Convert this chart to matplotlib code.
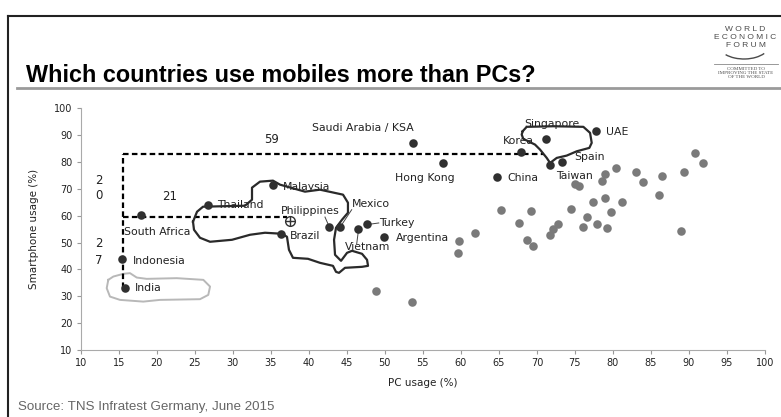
import matplotlib
matplotlib.use("Agg")
import matplotlib.pyplot as plt
import numpy as np
from matplotlib.patches import Arc

# highlighted countries: PC usage vs smartphone usage (%)
countries = ["India", "Indonesia", "South Africa", "Thailand", "Malaysia", "Brazil",
             "Philippines", "Mexico", "Vietnam", "Turkey", "Argentina",
             "Saudi Arabia / KSA", "Hong Kong", "China", "Korea", "Singapore",
             "Taiwan", "Spain", "UAE"]
pc_usage = [15.8, 15.4, 17.9, 26.7, 35.3, 36.4, 42.7, 44.1, 46.5, 47.6, 49.9,
            53.7, 57.6, 64.7, 67.9, 71.2, 71.7, 73.3, 77.8]
phone_usage = [33.2, 43.8, 60.4, 64.1, 71.3, 53.3, 55.8, 55.8, 55.0, 56.9, 51.9,
               86.9, 79.7, 74.4, 83.8, 88.4, 78.8, 80.0, 91.5]

# remaining (unlabelled) countries
other_pc = [48.9, 53.6, 59.7, 59.6, 61.8, 65.3, 67.6, 69.2, 68.7, 69.5, 71.7, 72.1,
            72.8, 74.5, 75.0, 75.6, 76.1, 76.6, 77.4, 77.9, 78.6, 78.9, 79.0, 79.2,
            79.7, 80.4, 81.2, 83.0, 83.9, 86.1, 86.4, 89.0, 89.3, 90.8, 91.8]
other_phone = [32.0, 28.0, 50.6, 46.1, 53.4, 62.2, 57.3, 61.8, 51.0, 48.8, 52.9, 55.0,
               56.8, 62.5, 71.7, 71.2, 55.8, 59.5, 65.1, 57.0, 72.8, 75.7, 66.5, 55.4,
               61.4, 77.6, 65.1, 76.2, 72.4, 67.6, 74.7, 54.4, 76.2, 83.4, 79.5]

x_ticks = list(range(10, 101, 5))
y_ticks = list(range(10, 101, 10))

# gap guides drawn from India
guide_x = 15.5
guide_top = 82.8
guide_mid = 59.5
guide_top_end = 70.9
guide_mid_end = 37.1
gap_labels = [("59", 35.1, 88.4), ("21", 21.7, 67.2), ("2", 12.4, 73.1), ("0", 12.4, 67.5),
              ("2", 12.4, 49.6), ("7", 12.4, 43.2)]

# where each country name sits (data coords, left edge)
label_pos = {
    "India": (17.1, 33.2), "Indonesia": (16.9, 43.2), "South Africa": (15.7, 53.8),
    "Thailand": (28.0, 64.0), "Malaysia": (36.6, 70.7), "Brazil": (37.5, 52.3),
    "Philippines": (36.3, 61.9), "Mexico": (45.7, 64.4), "Vietnam": (44.8, 48.2),
    "Turkey": (49.3, 57.3), "Argentina": (51.4, 51.7), "Saudi Arabia / KSA": (40.4, 92.8),
    "Hong Kong": (51.3, 74.1), "China": (66.1, 74.1), "Korea": (65.5, 87.7),
    "Singapore": (68.4, 94.2), "Taiwan": (72.5, 74.9), "Spain": (74.9, 81.9),
    "UAE": (79.1, 91.2),
}

# freehand outlines around groups of countries
blob_x = [24.77, 25.30, 26.09, 31.61, 32.53, 32.53, 33.58, 35.29, 36.21, 39.50, 41.47,
          44.50, 45.15, 45.15, 44.37, 43.58, 43.32, 43.45, 44.24, 45.03, 45.69, 47.00,
          47.66, 47.79, 47.00, 44.76, 43.97, 43.58, 43.18, 41.47, 39.89, 37.92, 37.39,
          37.13, 36.48, 34.24, 32.27, 29.90, 27.01, 25.69, 24.90, 24.77]
blob_y = [57.76, 61.49, 63.36, 63.73, 65.97, 70.45, 72.69, 73.06, 71.57, 68.96, 69.70,
          67.84, 64.85, 61.12, 58.51, 55.52, 51.04, 45.45, 43.21, 46.19, 46.94, 45.82,
          43.58, 41.34, 40.97, 40.60, 38.73, 39.10, 41.34, 42.46, 43.96, 44.33, 47.31,
          52.16, 53.28, 53.66, 52.91, 51.04, 50.30, 51.79, 54.78, 57.76]
rich_x = [68.13, 68.66, 72.16, 76.11, 76.99, 77.21, 76.90, 75.24, 73.92, 72.61, 71.73,
          71.29, 70.41, 69.75, 68.21, 68.00, 68.13]
rich_y = [91.46, 93.10, 93.32, 93.10, 90.86, 87.13, 85.26, 83.99, 82.39, 81.53, 79.66,
          81.53, 84.63, 86.49, 88.62, 90.22, 91.46]
india_x = [13.63, 14.29, 15.60, 16.48, 17.37, 18.68, 22.63, 26.13, 27.01, 26.78, 25.69,
           20.43, 18.23, 15.17, 13.85, 13.42, 13.63]
india_y = [36.12, 37.35, 38.36, 38.62, 36.98, 36.49, 36.75, 36.12, 33.62, 30.52, 28.92,
           28.66, 28.02, 28.66, 29.89, 33.02, 36.12]

fig = plt.figure(figsize=(7.81, 4.17), dpi=100)

# slide decoration in pixel coordinates
deco = fig.add_axes([0, 0, 1, 1])
deco.set_xlim(0, 781)
deco.set_ylim(417, 0)
deco.axis("off")
deco.plot([7.5, 7.5], [417, 15.5], color="#222222", lw=1.5)
deco.plot([7.5, 781], [15.5, 15.5], color="#222222", lw=1.5)
deco.plot([17, 781], [88, 88], color="#9a9a9a", lw=2)
deco.text(26, 82.3, "Which countries use mobiles more than PCs?", fontsize=16.8,
          fontweight="bold", family="Liberation Sans", va="baseline", ha="left")
for txt, xx, yy in [("W O R L D", 745, 29.5), ("E C O N O M I C", 745, 37.5),
                    ("F O R U M", 746, 45)]:
    deco.text(xx, yy, txt, fontsize=6.0, color="#4a4a4a", ha="center", va="center",
              family="Liberation Sans")
deco.add_patch(Arc((744, 44), 52, 30, theta1=25, theta2=150, color="#4a4a4a", lw=1.0))
deco.plot([714, 778], [64, 64], color="#888888", lw=0.6)
deco.text(746, 72.5, "COMMITTED TO\nIMPROVING THE STATE\nOF THE WORLD", fontsize=3.6,
          color="#4a4a4a", ha="center", va="center", family="Liberation Serif",
          linespacing=1.0)
deco.text(18, 407, "Source: TNS Infratest Germany, June 2015", fontsize=9.6,
          color="#666666", ha="left", va="center", family="Liberation Sans")

ax = fig.add_axes([80.7 / 781, 1 - 350 / 417, (765 - 80.7) / 781, (350 - 108.3) / 417])
ax.set_xlim(10, 100)
ax.set_ylim(10, 100)
ax.set_xticks(x_ticks)
ax.set_yticks(y_ticks)
ax.tick_params(labelsize=7, length=3, color="#999999", labelcolor="#222222", pad=3)
for side in ["top", "right"]:
    ax.spines[side].set_visible(False)
for side in ["left", "bottom"]:
    ax.spines[side].set_color("#aaaaaa")
ax.set_xlabel("PC usage (%)", fontsize=7.5, color="#222222", labelpad=7)
ax.set_ylabel("Smartphone usage (%)", fontsize=7.5, color="#222222", labelpad=11)

ax.scatter(other_pc, other_phone, s=38, color="#7a7a7a", zorder=3, linewidths=0)
ax.scatter(pc_usage, phone_usage, s=38, color="#303030", zorder=4, linewidths=0)

# dashed gap guides
ax.plot([guide_x, guide_x], [phone_usage[0], guide_top], ls=(0, (2.5, 1.5)), color="black",
        lw=1.6, zorder=2)
ax.plot([guide_x, guide_top_end], [guide_top, guide_top], ls=(0, (2.5, 1.5)), color="black",
        lw=1.6, zorder=2)
ax.plot([guide_x, guide_mid_end], [guide_mid, guide_mid], ls=(0, (2.5, 1.5)), color="black",
        lw=1.6, zorder=2)
ax.plot([guide_mid_end + 0.4], [guide_mid - 1.3], marker="o", ms=7, mfc="white",
        mec="#333333", mew=1, zorder=5)
ax.plot([guide_mid_end + 0.4], [guide_mid - 1.3], marker="+", ms=7, color="#333333",
        mew=1, zorder=6)
for txt, gx, gy in gap_labels:
    ax.text(gx, gy, txt, fontsize=8.5, ha="center", va="center", color="#222222")

# outlines
ax.plot(blob_x, blob_y, color="#2a2a2a", lw=1.6, zorder=3)
ax.plot(rich_x, rich_y, color="#2a2a2a", lw=1.6, zorder=3)
ax.plot(india_x, india_y, color="#b8b8b8", lw=1.4, zorder=1)

# leader lines
for (x0, y0), (x1, y1) in [((42.13, 59.5), (42.7, 55.8)), ((45.64, 62.24), (44.33, 56.64)),
                           ((48.18, 56.9), (49.2, 57.3)), ((46.51, 54.14), (46.30, 49.55))]:
    ax.plot([x0, x1], [y0, y1], color="#444444", lw=0.7, zorder=3)

for name in countries:
    lx, ly = label_pos[name]
    ax.text(lx, ly, name, fontsize=7.8, color="#222222", ha="left", va="center", zorder=2)

fig.savefig("out.png", dpi=100)
